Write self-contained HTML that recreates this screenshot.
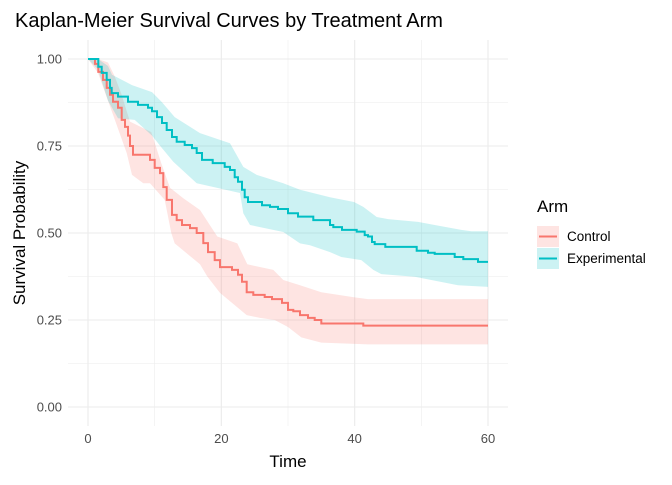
<!DOCTYPE html>
<html><head><meta charset="utf-8"><style>
body{margin:0;background:#fff;font-family:"Liberation Sans",Arial,sans-serif}
svg text{font-family:"Liberation Sans",Arial,sans-serif}
</style></head><body>
<svg id="chart" width="672" height="480" xmlns="http://www.w3.org/2000/svg">
<text x="15" y="27" font-size="20" fill="#000">Kaplan-Meier Survival Curves by Treatment Arm</text>
<g id="grid"></g>
<g id="bands"></g>
<g id="lines"></g>
<g id="ticks"></g>
<text x="288" y="467" font-size="17" text-anchor="middle">Time</text>
<text transform="translate(25,233) rotate(-90)" font-size="17" text-anchor="middle">Survival Probability</text>
<g>
<text x="537" y="212" font-size="17">Arm</text>
<g>
<rect x="537" y="226" width="22" height="21" fill="#F8766D" fill-opacity="0.2"/>
<line x1="539" y1="236.5" x2="557" y2="236.5" stroke="#F8766D" stroke-width="2"/>
<text x="567" y="241" font-size="13.5" fill="#000">Control</text></g>
<g>
<rect x="537" y="248" width="22" height="21" fill="#00BFC4" fill-opacity="0.2"/>
<line x1="539" y1="258.5" x2="557" y2="258.5" stroke="#00BFC4" stroke-width="2"/>
<text x="567" y="263" font-size="13.5" fill="#000">Experimental</text></g>
</g>
</svg>
<script>
const xTicks=[0,20,40,60];
const yTicks=[0,0.25,0.5,0.75,1];
const yTickLabels=["0.00","0.25","0.50","0.75","1.00"];
// Control survival steps
const ctrlTime=[0,1.05,1.55,2.25,2.8,3.3,3.75,4.5,5.05,5.55,6,6.3,6.75,9.3,10,10.8,11.3,11.8,12.6,13.3,14.1,15.3,16.3,17.3,18,19,19.8,21.6,22.5,23.1,23.8,24.8,26.5,27.6,29.1,30,30.8,31.8,33,34,35,41.3,60];
const ctrlSurv=[1,0.986,0.963,0.94,0.917,0.897,0.877,0.86,0.825,0.805,0.78,0.75,0.725,0.71,0.687,0.672,0.632,0.595,0.552,0.537,0.523,0.514,0.5,0.471,0.445,0.422,0.402,0.394,0.38,0.36,0.33,0.322,0.316,0.31,0.299,0.279,0.275,0.264,0.256,0.25,0.24,0.234,0.234];
const ctrlBandTime=[0,1.5,3,4.5,5.8,6.6,8.3,9.3,11.5,12.5,13,16.8,17.9,19.8,23.8,25.8,28,30,32,35,42,60];
const ctrlLower=[1,0.96,0.88,0.8,0.73,0.667,0.643,0.643,0.595,0.5,0.47,0.41,0.375,0.328,0.264,0.256,0.25,0.23,0.2,0.185,0.18,0.18];
const ctrlUpperTime=[0,1.5,3,4,5,6.3,9.5,11,12.3,14.3,16.8,19.4,22.4,23.9,27.8,29.3,31.8,35,40,42,60];
const ctrlUpper=[1,1,0.99,0.95,0.9,0.82,0.79,0.7,0.63,0.6,0.566,0.49,0.47,0.41,0.394,0.365,0.35,0.33,0.315,0.31,0.31];
// Experimental survival steps
const expTime=[0,1.55,2.05,2.8,3.3,3.55,4.5,6,7.5,9,9.6,10.35,11.1,11.8,12.6,13.3,14.5,15.6,16.3,17.1,18.7,20.5,21.3,22,22.5,23.1,23.5,24,26.1,27.3,28.5,30,31.5,33.8,36.3,36.8,38.1,40.3,41.5,42,42.6,43,44.6,49.3,51,52,55,56.3,58.5];
const expSurv=[1,0.978,0.96,0.94,0.917,0.902,0.892,0.877,0.868,0.86,0.85,0.833,0.816,0.796,0.776,0.762,0.753,0.744,0.73,0.71,0.701,0.69,0.681,0.66,0.647,0.624,0.603,0.589,0.58,0.575,0.569,0.557,0.547,0.537,0.523,0.517,0.509,0.504,0.494,0.49,0.474,0.468,0.46,0.449,0.443,0.44,0.431,0.425,0.417];
const expLowerTime=[0,1.5,3,4.5,7,9.6,11.1,12.8,16.3,19.3,22.8,23.3,24.3,29.3,31.8,33.3,36.3,38,41,42.8,44,49,51.5,55.5,60];
const expLower=[1,0.97,0.88,0.83,0.825,0.78,0.744,0.705,0.643,0.63,0.615,0.557,0.523,0.503,0.47,0.465,0.445,0.431,0.422,0.394,0.382,0.374,0.365,0.35,0.345];
const expUpperTime=[0,1.5,3,3.6,6.6,9.6,11.1,13,16.8,21.3,23.3,25.3,29.3,31.8,36.3,39.9,41.3,43.3,45,49.5,52,56,57.5,60];
const expUpper=[1,1,0.98,0.955,0.925,0.905,0.876,0.833,0.787,0.758,0.69,0.667,0.643,0.624,0.603,0.589,0.575,0.546,0.54,0.532,0.523,0.509,0.505,0.505];

const NS="http://www.w3.org/2000/svg";
const xs=t=>88+t*(400/60);
const ys=v=>407-v*348;
function mk(tag,attrs,parent){const e=document.createElementNS(NS,tag);for(const k in attrs)e.setAttribute(k,attrs[k]);parent.appendChild(e);return e;}
const grid=document.getElementById('grid');
for(let t=0;t<=60;t+=10){const major=t%20===0;
 const l=mk('line',{x1:xs(t),x2:xs(t),y1:40,y2:426,stroke:'#ebebeb','stroke-width':major?1.1:0.55},grid);
 
 }
for(let v=0;v<=1.0001;v+=0.125){const major=Math.round(v*8)%2===0;
 const l=mk('line',{x1:68,x2:508,y1:ys(v),y2:ys(v),stroke:'#ebebeb','stroke-width':major?1.1:0.55},grid);
 
 }
const ticks=document.getElementById('ticks');
xTicks.forEach(t=>{const e=mk('text',{x:xs(t),y:443,'font-size':13,fill:'#4d4d4d','text-anchor':'middle'},ticks);e.textContent=t;
 
 });
yTicks.forEach((v,i)=>{const e=mk('text',{x:62,y:ys(v)+4.5,'font-size':13,fill:'#4d4d4d','text-anchor':'end'},ticks);e.textContent=yTickLabels[i];
 
 });
function stepPts(T,V){let p=[];for(let i=0;i<T.length;i++){if(i>0)p.push([xs(T[i]),ys(V[i-1])]);p.push([xs(T[i]),ys(V[i])]);}return p;}
function linPts(T,V){return T.map((t,i)=>[xs(t),ys(V[i])]);}
function bandPath(TU,U,TL,L){const up=linPts(TU,U),lo=linPts(TL,L).reverse();return 'M'+up.concat(lo).map(p=>p[0].toFixed(1)+','+p[1].toFixed(1)).join('L')+'Z';}
const bands=document.getElementById('bands');
const b1=mk('path',{d:bandPath(ctrlUpperTime,ctrlUpper,ctrlBandTime,ctrlLower),fill:'#F8766D','fill-opacity':0.2},bands);


const b2=mk('path',{d:bandPath(expUpperTime,expUpper,expLowerTime,expLower),fill:'#00BFC4','fill-opacity':0.2},bands);


function linePath(T,V,end){const p=stepPts(T,V);if(end!==undefined)p.push([xs(end),ys(V[V.length-1])]);return 'M'+p.map(q=>q[0].toFixed(1)+','+q[1].toFixed(1)).join('L');}
const lines=document.getElementById('lines');
const l1=mk('path',{d:linePath(ctrlTime,ctrlSurv),fill:'none',stroke:'#F8766D','stroke-width':2},lines);


const l2=mk('path',{d:linePath(expTime,expSurv,60),fill:'none',stroke:'#00BFC4','stroke-width':2},lines);


</script>
</body></html>
